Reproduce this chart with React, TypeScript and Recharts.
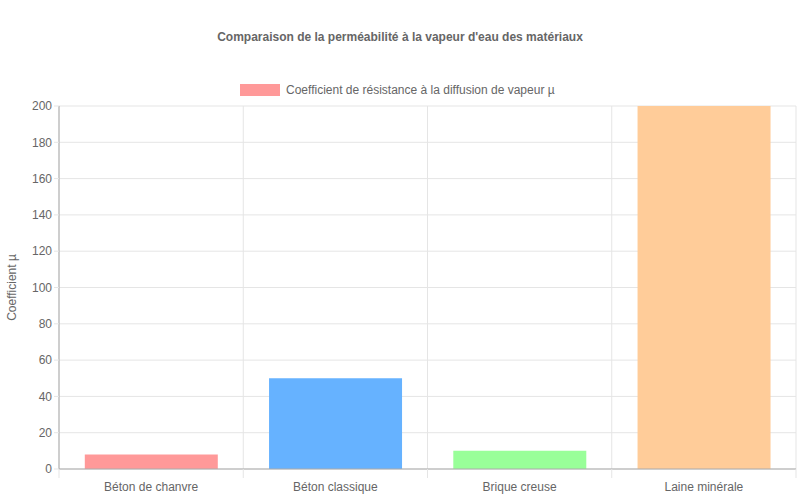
import { BarChart, Bar, XAxis, YAxis, CartesianGrid, Legend, Cell } from "recharts";

const materials = ["Béton de chanvre", "Béton classique", "Brique creuse", "Laine minérale"];
const muValues = [8, 50, 10, 200];
const barColors = ["#ff9999", "#66b2ff", "#99ff99", "#ffcc99"];
const yTicks = [0, 20, 40, 60, 80, 100, 120, 140, 160, 180, 200];

const title = "Comparaison de la perméabilité à la vapeur d'eau des matériaux";
const seriesName = "Coefficient de résistance à la diffusion de vapeur µ";
const yLabel = "Coefficient µ";

const W = 800;
const H = 500;
const LEFT = 59;
const RIGHT = 4;
const TOP = 106;
const XAXIS_H = 31;
const band = (W - LEFT - RIGHT) / materials.length;
const font = "'Liberation Sans', Arial, sans-serif";

const data = materials.map((name, i) => ({ name, mu: muValues[i] }));

function Header() {
  return (
    <svg width={W} height={TOP} style={{ display: "block" }}>
      <text x={W / 2} y={37} textAnchor="middle" dominantBaseline="central"
        fontFamily={font} fontSize={12} fontWeight="bold" fill="#666">
        {title}
      </text>
      <rect x={240} y={84} width={40} height={12} fill={barColors[0]} />
      <text x={286} y={90} dominantBaseline="central" fontFamily={font} fontSize={12} fill="#666">
        {seriesName}
      </text>
    </svg>
  );
}

function XTick(props: any) {
  const { x, y, payload, index } = props;
  const top = y - 8;
  return (
    <g>
      <line x1={x - band / 2} x2={x - band / 2} y1={top} y2={top + 9} stroke="#e5e5e5" />
      {index === materials.length - 1 && (
        <line x1={x + band / 2} x2={x + band / 2} y1={top} y2={top + 9} stroke="#e5e5e5" />
      )}
      <text x={x} y={top + 18} textAnchor="middle" dominantBaseline="central"
        fontFamily={font} fontSize={12} fill="#666">
        {payload.value}
      </text>
    </g>
  );
}

function YLabel(props: any) {
  const { viewBox } = props;
  const cy = viewBox.y + viewBox.height / 2;
  return (
    <text x={12} y={cy} transform={`rotate(-90, 12, ${cy})`} textAnchor="middle"
      dominantBaseline="central" fontFamily={font} fontSize={12} fill="#666">
      {yLabel}
    </text>
  );
}

export default function App() {
  return (
    <div style={{ position: "absolute", left: 0, top: 0, width: W, height: H, background: "#fff" }}>
      <BarChart width={W} height={H} data={data}
        margin={{ top: 0, right: RIGHT, left: 0, bottom: 0 }} barCategoryGap="14%">
        <Legend verticalAlign="top" height={TOP} content={() => <Header />}
          wrapperStyle={{ left: 0, top: 0, width: W }} />
        <CartesianGrid stroke="#e5e5e5"
          verticalCoordinatesGenerator={({ offset }: any) =>
            materials.map((_, i) => offset.left + i * band).concat([offset.left + materials.length * band])
          } />
        <XAxis dataKey="name" height={XAXIS_H} tickLine={false} axisLine={{ stroke: "#aaa" }}
          tick={<XTick />} interval={0} />
        <YAxis width={LEFT} domain={[0, 200]} ticks={yTicks} interval={0}
          axisLine={{ stroke: "#aaa" }} tickLine={{ stroke: "#e5e5e5" }} tickSize={5}
          tick={{ fontFamily: font, fontSize: 12, fill: "#666" }}
          label={<YLabel />} />
        <Bar dataKey="mu" name={seriesName} isAnimationActive={false}>
          {data.map((_, i) => <Cell key={i} fill={barColors[i]} />)}
        </Bar>
      </BarChart>
    </div>
  );
}
